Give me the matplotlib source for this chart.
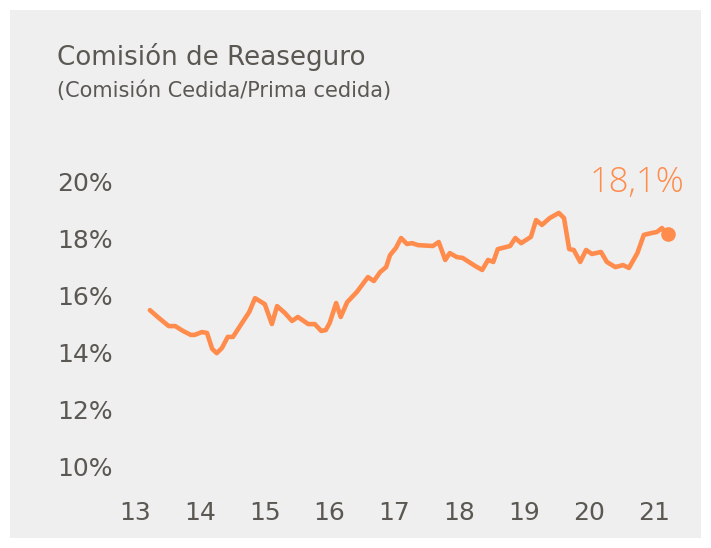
import matplotlib
matplotlib.use("Agg")
import matplotlib.pyplot as plt
from matplotlib.patches import Rectangle

# años (decimal) y comisión cedida / prima cedida (%)
anios = [13.23, 13.35, 13.52, 13.62, 13.74, 13.86, 13.92, 14.03, 14.11, 14.19,
         14.26, 14.34, 14.43, 14.51, 14.65, 14.76, 14.85, 15.00, 15.11, 15.19,
         15.31, 15.42, 15.51, 15.67, 15.77, 15.87, 15.94, 16.00, 16.10, 16.17,
         16.27, 16.42, 16.59, 16.68, 16.78, 16.87, 16.93, 17.02, 17.10, 17.19,
         17.27, 17.36, 17.59, 17.68, 17.78, 17.85, 17.96, 18.05, 18.24, 18.35,
         18.44, 18.52, 18.59, 18.78, 18.86, 18.95, 19.10, 19.18, 19.27, 19.39,
         19.53, 19.61, 19.69, 19.76, 19.86, 19.95, 20.04, 20.18, 20.27, 20.40,
         20.52, 20.61, 20.74, 20.84, 20.97, 21.04, 21.12, 21.14, 21.21]
comision = [15.47, 15.23, 14.91, 14.91, 14.74, 14.60, 14.60, 14.70, 14.67, 14.11,
            13.96, 14.14, 14.53, 14.53, 15.02, 15.40, 15.89, 15.68, 14.98, 15.61,
            15.37, 15.09, 15.23, 14.98, 14.98, 14.74, 14.77, 15.02, 15.72, 15.23,
            15.75, 16.11, 16.63, 16.49, 16.81, 16.98, 17.40, 17.65, 18.00, 17.79,
            17.82, 17.75, 17.72, 17.86, 17.23, 17.47, 17.33, 17.30, 17.02, 16.88,
            17.23, 17.16, 17.61, 17.72, 18.00, 17.82, 18.04, 18.63, 18.46, 18.70,
            18.88, 18.70, 17.61, 17.58, 17.16, 17.58, 17.44, 17.51, 17.16, 16.98,
            17.05, 16.95, 17.47, 18.11, 18.18, 18.21, 18.35, 18.28, 18.14]
ticks_x = [13, 14, 15, 16, 17, 18, 19, 20, 21]
ticks_y = [10, 12, 14, 16, 18, 20]
etiqueta_final = "18,1%"

naranja = "#ff8c4c"
gris = "#5b5752"

plt.rcParams['font.family'] = ['DejaVu Sans']

fig = plt.figure(figsize=(7.11, 5.48), dpi=100)
fig.patch.set_facecolor("white")
fig.patches.append(Rectangle((10/711, 10/548), 691/711, 528/548, transform=fig.transFigure,
                             facecolor="#efefef", edgecolor="none", zorder=-10))

ax = fig.add_axes([0.1624, 0.0976, 0.8034, 0.6241])
ax.set_facecolor("none")
ax.plot(anios, comision, color=naranja, lw=3.3, solid_joinstyle="round",
        solid_capstyle="round", clip_on=False)
ax.plot(anios[-1], comision[-1], "o", color=naranja, ms=9.5, clip_on=False)
ax.annotate(etiqueta_final, (anios[-1], comision[-1]), xytext=(12, 30),
            textcoords="offset points", ha="right", va="baseline",
            color=naranja, fontsize=25, family=["Open Sans", "DejaVu Sans"],
            fontweight=300)

ax.set_xlim(12.7, 21.5)
ax.set_ylim(9, 21)
ax.set_xticks(ticks_x)
ax.set_xticklabels([str(t) for t in ticks_x])
ax.set_yticks(ticks_y)
ax.set_yticklabels([f"{t}%" for t in ticks_y])
ax.tick_params(length=0, labelsize=18, colors=gris)
ax.tick_params(axis="y", pad=2)
ax.tick_params(axis="x", pad=5)
for s in ax.spines.values():
    s.set_visible(False)

fig.text(57/711, 1 - 65/548, "Comisión de Reaseguro", fontsize=18.8, color=gris,
         va="baseline")
fig.text(57/711, 1 - 97/548, "(Comisión Cedida/Prima cedida)", fontsize=15,
         color=gris, va="baseline")

fig.savefig("out.png", dpi=100)
